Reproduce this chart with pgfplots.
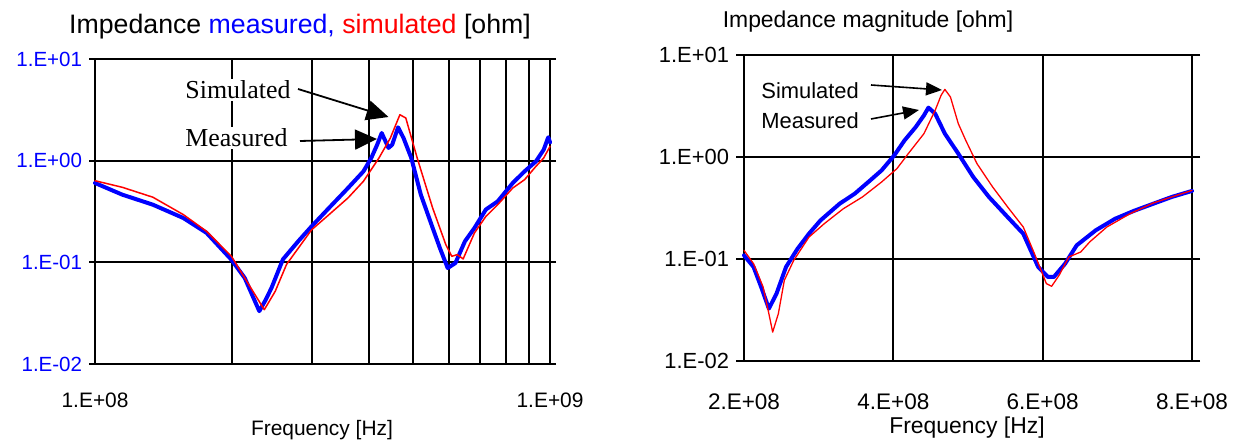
\documentclass[border=0pt]{standalone}
\usepackage{pgfplots}
\pgfplotsset{compat=1.18}
\usepackage{fontspec}
\setmainfont{Liberation Sans}
\newfontfamily\timesfont{Liberation Serif}
\usetikzlibrary{arrows.meta}

\pgfplotsset{
  impstyle/.style={
    scale only axis, anchor=south west, clip=false,
    ymin=1e-2, ymax=10,
    ytick={1e-2,1e-1,1,10},
    yticklabels={1.E-02,1.E-01,1.E+00,1.E+01},
    yminorticks=false,
    ymajorgrids=true,
    tick align=outside,
    major tick length=3bp,
    xtick style={draw=none},
    minor tick style={draw=none},
    ytick style={black, line width=1bp},
    axis line style={black, line width=1bp},
    major grid style={black, line width=1bp},
    minor grid style={black, line width=1bp},
    every axis plot/.append style={line join=round, line cap=round},
  }
}

\begin{document}
\begin{tikzpicture}
\useasboundingbox (0bp,0bp) rectangle (620bp,220.5bp);

% ---------------- left chart
\begin{axis}[xmode=log, ymode=log, impstyle,
    at={(47.5bp,38.5bp)}, width=227.5bp, height=152.5bp,
    xmin=1e8, xmax=1e9,
    xtick={1e8,1e9}, xticklabels={1.E+08,1.E+09},
    xminorgrids=true,
    yticklabel style={text=blue, font=\fontsize{10.3}{12}\selectfont},
    xticklabel style={font=\fontsize{10.5}{12}\selectfont, yshift=-8bp},
]
\addplot[blue, line width=2bp] coordinates {
(1.000e8,0.603) (1.148e8,0.463) (1.340e8,0.369) (1.563e8,0.273)
(1.758e8,0.195) (1.995e8,0.106) (2.133e8,0.0702) (2.296e8,0.0331)
(2.371e8,0.0427) (2.443e8,0.0562) (2.588e8,0.107) (2.799e8,0.162)
(2.992e8,0.226) (3.266e8,0.342) (3.597e8,0.538) (3.890e8,0.785)
(4.046e8,1.062) (4.169e8,1.435) (4.266e8,1.871) (4.416e8,1.334)
(4.498e8,1.435) (4.634e8,2.128) (4.764e8,1.671) (4.955e8,1.062)
(5.200e8,0.463) (5.521e8,0.218) (5.728e8,0.138) (5.957e8,0.0879)
(6.194e8,0.0984) (6.501e8,0.161) (6.823e8,0.218) (7.228e8,0.331)
(7.674e8,0.398) (8.279e8,0.603) (8.790e8,0.785) (9.311e8,0.984)
(9.683e8,1.282) (9.908e8,1.698) (1.000e9,1.514)
};
\addplot[red, line width=0.75bp] coordinates {
(1.000e8,0.635) (1.148e8,0.547) (1.340e8,0.437) (1.563e8,0.295)
(1.758e8,0.202) (1.995e8,0.1146) (2.178e8,0.0603) (2.355e8,0.0342)
(2.489e8,0.0519) (2.636e8,0.0955) (2.992e8,0.209) (3.266e8,0.294)
(3.597e8,0.430) (3.890e8,0.627) (4.207e8,1.062) (4.457e8,1.671)
(4.677e8,2.83) (4.819e8,2.63) (5.105e8,1.062) (5.521e8,0.342)
(5.902e8,0.149) (6.081e8,0.1146) (6.252e8,0.119) (6.442e8,0.108)
(6.823e8,0.195) (7.228e8,0.283) (7.674e8,0.369) (8.279e8,0.538)
(8.790e8,0.650) (9.311e8,0.879) (9.683e8,1.062) (1.000e9,1.384)
};
\end{axis}

% ---------------- right chart
\begin{axis}[ymode=log, impstyle,
    at={(372bp,40bp)}, width=224bp, height=153bp,
    xmin=2e8, xmax=8e8, scaled x ticks=false,
    xtick={2e8,4e8,6e8,8e8},
    xticklabels={2.E+08,4.E+08,6.E+08,8.E+08},
    xmajorgrids=true,
    major tick length=4bp,
    yticklabel style={font=\fontsize{11}{13}\selectfont},
    xticklabel style={font=\fontsize{11.3}{13}\selectfont, yshift=-9bp},
]
\addplot[blue, line width=2bp] coordinates {
(2.000e8,0.1086) (2.128e8,0.0836) (2.230e8,0.0531) (2.333e8,0.0326)
(2.435e8,0.0457) (2.563e8,0.0836) (2.717e8,0.126) (2.870e8,0.177)
(3.024e8,0.239) (3.280e8,0.348) (3.485e8,0.438) (3.690e8,0.590)
(3.843e8,0.740) (4.012e8,1.037) (4.150e8,1.455) (4.300e8,1.968)
(4.410e8,2.559) (4.470e8,3.048) (4.560e8,2.661) (4.690e8,1.694)
(4.870e8,1.079) (5.070e8,0.637) (5.280e8,0.406) (5.530e8,0.258)
(5.740e8,0.177) (5.940e8,0.0836) (6.070e8,0.0667) (6.150e8,0.0667)
(6.300e8,0.0899) (6.455e8,0.136) (6.710e8,0.191) (6.970e8,0.248)
(7.220e8,0.296) (7.480e8,0.348) (7.730e8,0.406) (8.000e8,0.465)
};
\addplot[red, line width=0.65bp] coordinates {
(2.000e8,0.1216) (2.128e8,0.0899) (2.256e8,0.0531) (2.333e8,0.0291)
(2.384e8,0.0192) (2.460e8,0.0291) (2.540e8,0.0618) (2.666e8,0.0970)
(2.870e8,0.164) (3.075e8,0.222) (3.330e8,0.311) (3.587e8,0.406)
(3.843e8,0.569) (4.048e8,0.769) (4.200e8,1.079) (4.410e8,1.694)
(4.560e8,2.871) (4.640e8,4.027) (4.690e8,4.603) (4.765e8,3.873)
(4.870e8,2.123) (4.970e8,1.455) (5.120e8,0.861) (5.330e8,0.508)
(5.530e8,0.324) (5.740e8,0.206) (5.890e8,0.1127) (6.050e8,0.0573)
(6.120e8,0.0540) (6.220e8,0.0692) (6.350e8,0.1047) (6.510e8,0.1172)
(6.630e8,0.147) (6.860e8,0.206) (7.170e8,0.278) (7.480e8,0.354)
(7.730e8,0.406) (8.000e8,0.471)
};
\end{axis}

% titles and axis labels
\node at (150bp,207bp) {\fontsize{13.4}{15}\selectfont Impedance \textcolor{blue}{measured,} \textcolor{red}{simulated} [ohm]};
\node at (434bp,209.5bp) {\fontsize{11.5}{13}\selectfont Impedance magnitude [ohm]};
\node at (161bp,5.5bp) {\fontsize{10.5}{12}\selectfont Frequency [Hz]};
\node at (483.5bp,6.5bp) {\fontsize{11.5}{13}\selectfont Frequency [Hz]};

% annotations, left
\node[anchor=west, fill=white, inner sep=1bp, font={\timesfont\fontsize{13}{15}\selectfont}] at (91.5bp,175.5bp) {Simulated};
\node[anchor=west, fill=white, inner sep=1bp, font={\timesfont\fontsize{13}{15}\selectfont}] at (91.5bp,151.5bp) {Measured};
\draw[line width=0.9bp, -{Triangle[length=11bp,width=10bp]}] (149bp,176bp) -- (194.25bp,162bp);
\draw[line width=0.9bp, -{Triangle[length=11bp,width=10bp]}] (150bp,150bp) -- (188.5bp,151bp);

% annotations, right
\node[anchor=west, inner sep=0bp, font={\fontsize{11}{13}\selectfont}] at (380.5bp,175bp) {Simulated};
\node[anchor=west, inner sep=0bp, font={\fontsize{11}{13}\selectfont}] at (380.5bp,160bp) {Measured};
\draw[line width=0.8bp, -{Triangle[length=8bp,width=6.5bp]}] (435.5bp,178bp) -- (471bp,175.5bp);
\draw[line width=0.8bp, -{Triangle[length=8bp,width=6.5bp]}] (435.5bp,161bp) -- (459.5bp,165.5bp);
\end{tikzpicture}
\end{document}
